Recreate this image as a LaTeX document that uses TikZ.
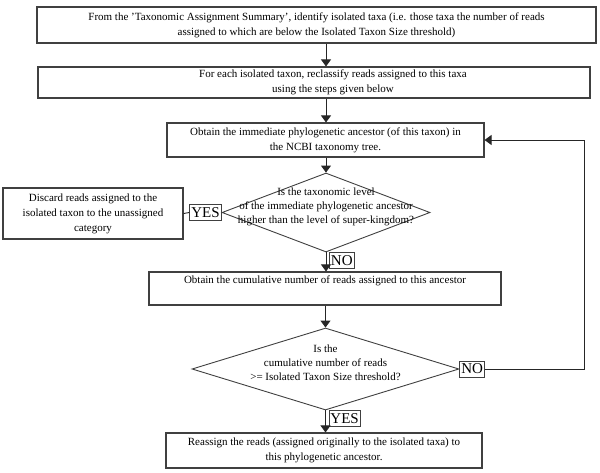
\documentclass[tikz,border=0pt]{standalone}
\usepackage{fontspec}
\setmainfont{Liberation Serif}
\usetikzlibrary{arrows.meta,shapes.geometric}

\begin{document}
\begin{tikzpicture}[x=1pt,y=-1pt,
	box/.style={draw=black!75,line width=1.1pt,inner sep=0pt,align=center,font=\fontsize{11}{15}\selectfont},
	dec/.style={diamond,draw=black!75,line width=0.9pt,inner sep=0pt},
	dectext/.style={align=center,inner sep=0pt,font=\fontsize{11}{14}\selectfont},
	tag/.style={draw=black!75,line width=0.9pt,inner sep=1.5pt,minimum height=16pt,font=\fontsize{15}{15}\selectfont},
	arr/.style={draw=black!85,line width=0.9pt,-{Triangle[length=7pt,width=10pt]}},
	ln/.style={draw=black!85,line width=0.9pt}]
	\useasboundingbox (0,0) rectangle (600,472);
	\node[box,minimum width=559,minimum height=36] (find) at (316.5,25) {From the 'Taxonomic Assignment Summary', identify isolated taxa (i.e. those taxa the number of reads\\assigned to which are below the Isolated Taxon Size threshold)};
	\node[box,minimum width=552,minimum height=31] (each) at (314,82.5) {\hspace*{38pt}For each isolated taxon, reclassify reads assigned to this taxa\\\hspace*{38pt}using the steps given below};
	\node[box,minimum width=317,minimum height=34] (anc) at (325.5,140) {Obtain the immediate phylogenetic ancestor (of this taxon) in\\the NCBI taxonomy tree.};
	\node[dec,minimum width=208,minimum height=79] (lvl) at (326,212.5) {};
	\node[dectext] (lvltext) at (326,207) {Is the taxonomic level\\of the immediate phylogenetic ancestor\\higher than the level of super-kingdom?};
	\node[box,minimum width=180,minimum height=51] (discard) at (93,213.5) {Discard reads assigned to the\\isolated taxon to the unassigned\\category};
	\node[tag,anchor=east] (yesa) at (lvl.west) {YES};
	\node[tag,anchor=north west] (noa) at ([xshift=3]lvl.south) {NO};
	\node[box,minimum width=352,minimum height=33,text depth=17pt] (cum) at (325,288.5) {Obtain the cumulative number of reads assigned to this ancestor};
	\node[dec,minimum width=267,minimum height=82] (thr) at (325.5,369) {};
	\node[dectext] (thrtext) at (325.5,363) {Is the\\cumulative number of reads\\>= Isolated Taxon Size threshold?};
	\node[tag,anchor=west] (nob) at (thr.east) {NO};
	\node[tag,anchor=north west] (yesb) at ([xshift=3]thr.south) {YES};
	\node[box,minimum width=316,minimum height=35] (reassign) at (324,450.5) {Reassign the reads (assigned originally to the isolated taxa) to\\this phylogenetic ancestor.};
	\coordinate (back) at (584,369);

	\draw[arr] (find.south -| lvl.north) -- (each.north -| lvl.north);
	\draw[arr] (each.south -| lvl.north) -- (anc.north -| lvl.north);
	\draw[arr] (anc.south -| lvl.north) -- (lvl.north);
	\draw[ln] (yesa.west) -- (discard.east);
	\draw[arr] (lvl.south) -- (cum.north -| lvl.south);
	\draw[arr] (cum.south -| thr.north) -- (thr.north);
	\draw[arr] (thr.south) -- (reassign.north -| thr.south);
	\draw[arr] (nob.east) -- (back) |- (anc.east);
\end{tikzpicture}
\end{document}
